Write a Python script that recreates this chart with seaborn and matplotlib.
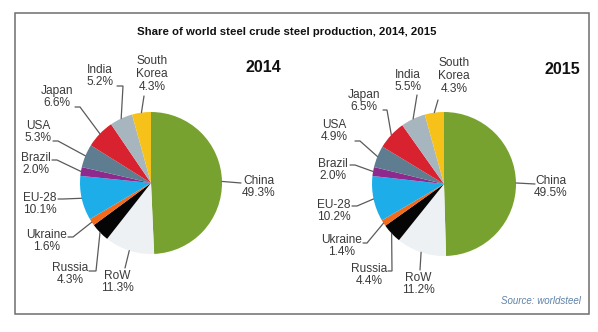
import matplotlib
matplotlib.use("Agg")
import matplotlib.pyplot as plt
import numpy as np
import seaborn as sns
from matplotlib.patches import Rectangle

# Producers, listed clockwise from 12 o'clock
regions = ["China", "RoW", "Russia", "Ukraine", "EU-28", "Brazil", "USA", "Japan", "India", "South Korea"]
region_labels = ["China", "RoW", "Russia", "Ukraine", "EU-28", "Brazil", "USA", "Japan", "India", "South\nKorea"]
share_2014 = [49.3, 11.3, 4.3, 1.6, 10.1, 2.0, 5.3, 6.6, 5.2, 4.3]
share_2015 = [49.5, 11.2, 4.4, 1.4, 10.2, 2.0, 4.9, 6.5, 5.5, 4.3]
years = ["2014", "2015"]
title = "Share of world steel crude steel production, 2014, 2015"
source = "Source: worldsteel"

palette = sns.color_palette([
    "#78A22F", "#EDF1F4", "#050505", "#F26B1D", "#1DAEEA",
    "#8E2A8E", "#5E7D90", "#D8222F", "#A7B5BF", "#F6C21A",
])

sns.set_theme(style="white")
plt.rcParams["font.family"] = ["Liberation Sans", "DejaVu Sans"]

W, H = 598, 332
fig = plt.figure(figsize=(W / 100, H / 100), dpi=100)
ax = fig.add_axes([0, 0, 1, 1])


def P(x, y):
    """Pixel position (origin top-left) to axes data coordinates."""
    return (x, H - y)


# Layout of each pie: centre, radius, year-label position
pies = [
    dict(values=share_2014, center=(151, 183), radius=71, year_pos=(263, 67),
         # label centre, attach point on the text, optional elbow
         labels=[((259, 187), (241, 183), None),
                 ((117, 282), (125, 268), None),
                 ((70, 274), (89, 271), (96, 271)),
                 ((47, 241), (68, 237), (73, 237)),
                 ((40, 204), (58, 199), (63, 199)),
                 ((36, 164), (52, 160), (57, 160)),
                 ((38, 132), (53, 141), (58, 141)),
                 ((57, 97), (75, 107), (80, 107)),
                 ((100, 76), (117, 86), (123, 86)),
                 ((152, 74), (144, 96), None)]),
    dict(values=share_2015, center=(444, 184), radius=72, year_pos=(562, 70),
         labels=[((551, 187), (535, 184), None),
                 ((418, 284), (420, 270), None),
                 ((369, 275), (388, 271), (392, 271)),
                 ((342, 246), (363, 243), (367, 243)),
                 ((334, 211), (352, 206), (357, 206)),
                 ((333, 170), (350, 165), (355, 165)),
                 ((334, 131), (355, 141), (360, 141)),
                 ((364, 101), (383, 110), (387, 110)),
                 ((408, 81), (417, 95), None),
                 ((454, 76), (438, 100), None)]),
]

text_color = "#3A3A3A"
line_color = "#5A5A5A"

for year, pie in zip(years, pies):
    cx, cy = P(*pie["center"])
    r = pie["radius"]
    wedges, _ = ax.pie(pie["values"], colors=palette, startangle=90,
                       counterclock=False, radius=r, center=(cx, cy),
                       wedgeprops=dict(linewidth=0))
    for wedge, name, val, (lab, attach, elbow) in zip(wedges, region_labels,
                                                      pie["values"], pie["labels"]):
        mid = np.deg2rad((wedge.theta1 + wedge.theta2) / 2)
        edge = (cx + r * np.cos(mid), cy + r * np.sin(mid))
        pts = [P(*attach)]
        if elbow is not None:
            pts.append(P(*elbow))
        pts.append(edge)
        xs, ys = zip(*pts)
        ax.plot(xs, ys, color=line_color, lw=0.9, solid_joinstyle="miter", zorder=1)
        ax.text(*P(*lab), f"{name}\n{val:.1f}%", ha="center", va="center",
                multialignment="center", fontsize=8.6, color=text_color,
                linespacing=1.08)
    ax.text(*P(*pie["year_pos"]), year, ha="center", va="center",
            fontsize=11.5, fontweight="bold", color="#111111")

ax.text(*P(287, 32), title, ha="center", va="center", fontsize=8.2,
        fontweight="bold", color="#111111")
ax.text(*P(581, 301), source, ha="right", va="center", fontsize=7,
        fontstyle="italic", color="#5F82A8")

ax.add_patch(Rectangle(P(15, 314), 574, 301, facecolor="none",
                       edgecolor="#6E6E6E", lw=1.1, zorder=0))

ax.set_xlim(0, W)
ax.set_ylim(0, H)
ax.set_aspect("equal")
ax.axis("off")

fig.savefig("out.png", dpi=100, facecolor="white")
